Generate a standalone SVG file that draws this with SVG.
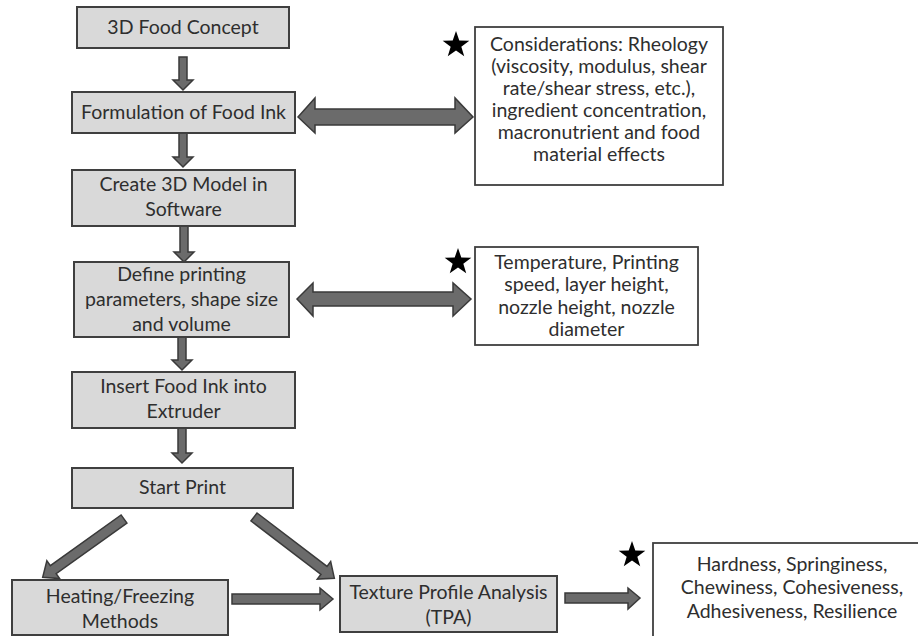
<svg xmlns="http://www.w3.org/2000/svg" xmlns:xlink="http://www.w3.org/1999/xlink" width="918" height="636" viewBox="0 0 918 636">
<style>
.box{fill:#d9d9d9;stroke:#3f3f3f;stroke-width:2}
.wbox{fill:#ffffff;stroke:#3f3f3f;stroke-width:1.8}
.arr{fill:#6b6b6b;stroke:#3a3a3a;stroke-width:1.5;stroke-linejoin:miter}
text{font-family:Lato,"Liberation Sans",sans-serif;font-size:19.5px;fill:#2e2e2e;text-anchor:middle}
.star{fill:#000000}
</style>
<defs>
<polygon id="star" points="0,-14 3.29,-4.53 13.31,-4.33 5.33,1.73 8.23,11.33 0,5.6 -8.23,11.33 -5.33,1.73 -13.31,-4.33 -3.29,-4.53"/>
</defs>
<rect width="918" height="636" fill="#ffffff"/>

<g id="connectors">
  <polygon class="arr" points="179,57 187,57 187,80 193,80 183,90 173,80 179,80"/>
  <polygon class="arr" points="179,133 187,133 187,157 193,157 183,167 173,157 179,157"/>
  <polygon class="arr" points="180,226 188,226 188,252 194,252 184,262 174,252 180,252"/>
  <polygon class="arr" points="178,337 186,337 186,360 192,360 182,370 172,360 178,360"/>
  <polygon class="arr" points="178,428 186,428 186,453 192,453 182,463 172,453 178,453"/>
  <polygon class="arr" points="298,117 315,98 315,109 455,109 455,98 473,117 455,133 455,125 315,125 315,133"/>
  <polygon class="arr" points="297,299 313,283 313,292 453,292 453,283 471,299 453,316 453,306 313,306 313,316"/>
  <polygon class="arr" transform="translate(124,519) rotate(144.4)" points="0,-5 87,-5 87,-11 100,0 87,11 87,5 0,5"/>
  <polygon class="arr" transform="translate(254,517) rotate(37.3)" points="0,-5 88,-5 88,-11 101,0 88,11 88,5 0,5"/>
  <polygon class="arr" points="232,594 320,594 320,588 333,599 320,610 320,604 232,604"/>
  <polygon class="arr" points="565,593 628,593 628,588 640,598 628,609 628,603 565,603"/>
</g>

<g id="n1">
  <rect class="box" x="77" y="7" width="212" height="41"/>
  <text x="183" y="34">3D Food Concept</text>
</g>
<g id="n2">
  <rect class="box" x="72" y="92" width="223" height="41"/>
  <text x="183.5" y="119">Formulation of Food Ink</text>
</g>
<g id="n3">
  <rect class="box" x="72" y="170" width="223" height="56"/>
  <text x="183.5" y="191">Create 3D Model in</text>
  <text x="183.5" y="216">Software</text>
</g>
<g id="n4">
  <rect class="box" x="74" y="262" width="215" height="75"/>
  <text x="181.5" y="281">Define printing</text>
  <text x="181.5" y="306">parameters, shape size</text>
  <text x="181.5" y="331">and volume</text>
</g>
<g id="n5">
  <rect class="box" x="72" y="372" width="223" height="56"/>
  <text x="183.5" y="393">Insert Food Ink into</text>
  <text x="183.5" y="418">Extruder</text>
</g>
<g id="n6">
  <rect class="box" x="72" y="468" width="221" height="40"/>
  <text x="182.5" y="494">Start Print</text>
</g>
<g id="n7">
  <rect class="box" x="12" y="580" width="216" height="55"/>
  <text x="120" y="603">Heating/Freezing</text>
  <text x="120" y="628">Methods</text>
</g>
<g id="n8">
  <rect class="box" x="340" y="576" width="217" height="56"/>
  <text x="448.5" y="599">Texture Profile Analysis</text>
  <text x="448.5" y="624">(TPA)</text>
</g>
<g id="n9">
  <use href="#star" x="456" y="45" class="star"/>
  <rect class="wbox" x="475" y="27" width="248" height="158"/>
  <text x="599" y="51">Considerations: Rheology</text>
  <text x="599" y="73">(viscosity, modulus, shear</text>
  <text x="599" y="95">rate/shear stress, etc.),</text>
  <text x="599" y="117">ingredient concentration,</text>
  <text x="599" y="139">macronutrient and food</text>
  <text x="599" y="161">material effects</text>
</g>
<g id="n10">
  <use href="#star" x="458" y="262" class="star"/>
  <rect class="wbox" x="475" y="247" width="223" height="98"/>
  <text x="586.5" y="269">Temperature, Printing</text>
  <text x="586.5" y="291">speed, layer height,</text>
  <text x="586.5" y="314">nozzle height, nozzle</text>
  <text x="586.5" y="336">diameter</text>
</g>
<g id="n11">
  <use href="#star" x="632" y="555" class="star"/>
  <rect class="wbox" x="653" y="543" width="280" height="100"/>
  <text x="792" y="571">Hardness, Springiness,</text>
  <text x="792" y="594">Chewiness, Cohesiveness,</text>
  <text x="792" y="618">Adhesiveness, Resilience</text>
</g>
</svg>
